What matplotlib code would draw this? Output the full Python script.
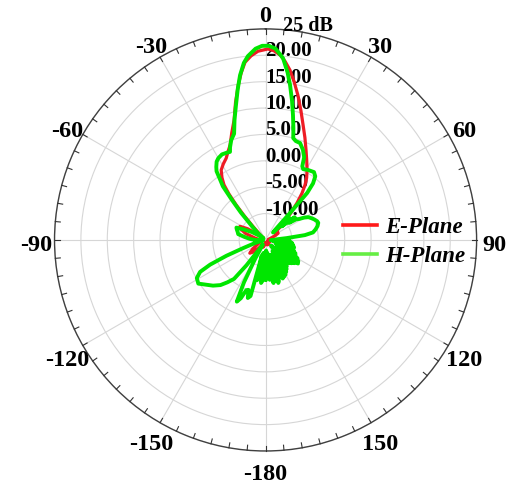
import matplotlib
matplotlib.use("Agg")
import matplotlib.pyplot as plt
import numpy as np

# H-Plane pattern (green): angle in degrees, gain in dB
h_theta = [-180, -178.5, -177, -175.5, -174, -172.5, -171, -169.5, -168, -166.5,
           -165, -163, -161, -159, -157, -155, -153,
           -151, -149, -146, -143, -141, -138, -135, -131, -127, -123, -119, -116,
           -114, -112, -110, -106, -102, -98, -94, -90, -86, -82, -78, -74, -70,
           -67, -64, -60, -56, -52, -48, -45, -42, -40, -38.5, -37, -35.5, -34,
           -32, -30, -27, -24, -22, -21, -19, -16.5, -14.5, -12.5, -10.5, -8.8,
           -7, -5.5, -3, -1, 1, 3, 5.5, 7.5, 9, 10.8, 12.4, 14, 15.2, 17, 19.6,
           22.5, 25, 26.5, 28, 31, 35.5, 38, 40, 41.5, 42.2, 43.5, 45, 47, 48.5,
           50, 52, 54, 56, 58, 60, 62, 64.5, 67, 70, 72, 75, 78, 81, 83, 85, 87,
           90, 91.5, 93, 94.5, 96, 97.5, 99, 100.5, 102, 103.5, 105, 106.5, 108,
           109.5, 111, 112.5, 114, 115.5, 117, 118.5, 120, 121.5, 123, 124.5, 126,
           127.5, 129, 130.5, 132, 133.5, 135, 136.5, 138, 139.5, 141, 142.5, 144,
           145.5, 147, 148.5, 150, 151.5, 153, 154.5, 156, 157.5, 159, 160.5, 162,
           163.5, 165, 166.5, 168, 169.5, 171, 172.5, 174, 175.5, 177, 178.5, 180]
h_db = [-7.5, -11.0, -12.5, -7.2, -6.8, -11.0, -12.5, -7.6, -7.2, -12.0,
        -4.0, -3.5, -5.0, -4.8, -3.0, -2.1, -6.0,
        -11.0, -14.0, -13.0, -9.0, -5.5, -4.2, -2.9, -1.8, -0.9, 0.2, -0.1, -1.2,
        -3.5, -7.0, -10.5, -13.0, -14.5, -13.0, -14.0, -13.0, -12.0, -11.0, -9.7,
        -9.5, -9.2, -9.0, -10.5, -12.0, -13.5, -14.5, -13.0, -11.5, -8.0, -5.0,
        -2.0, -0.7, 1.0, 1.7, 2.5, 2.9, 3.2, 3.1, 3.0, 3.8, 5.0, 6.0, 8.5, 11.0,
        14.0, 16.6, 18.8, 20.0, 21.3, 21.8, 21.8, 21.3, 19.6, 17.0, 14.7, 11.8,
        9.2, 6.8, 5.0, 4.6, 4.5, 3.5, 2.3, 0.6, 0.2, 0.5, 0.8, 0.3, -1.0, -3.1,
        -8.0, -12.4, -13.0, -10.0, -8.8, -11.0, -8.0, -9.5, -8.0, -7.5, -6.5,
        -5.8, -5.4, -5.0, -4.6, -4.5, -4.8, -5.3, -5.9, -7.5, -11.0, -13.0,
        -13.0, -10.5, -14.0, -11.0, -10.0, -13.5, -9.8, -12.5, -9.6, -13.0, -9.4,
        -12.5, -9.6, -13.0, -9.2, -12.0, -8.8, -12.5, -8.6, -12.0, -8.0, -11.5, -7.6,
        -12.0, -7.4, -11.0, -8.0, -12.5, -8.4, -13.0, -8.8, -13.5, -9.0, -12.5, -8.6,
        -12.5, -8.2, -12.0, -7.8, -12.5, -7.4, -11.5, -7.2, -12.0, -7.0, -11.5, -7.4,
        -12.0, -6.8, -6.5, -11.0, -7.0, -12.0, -6.7, -8.0, -12.5, -7.4, -11.0, -13.0,
        -7.8, -7.5]

# E-Plane pattern (red)
e_theta = [-180, -170, -160, -150, -140, -135, -130, -125, -120, -110, -100, -90,
           -80, -72, -66, -62, -58, -54, -50, -46, -43, -41.5, -40, -38.5, -37,
           -35, -32.4, -29, -25.7, -23, -20.5, -17.5, -14.7, -12.3, -10, -8.3,
           -6.6, -4.5, -2.3, 0.7, 2.5, 4.5, 6.3, 8.2, 10.3, 12.6, 15.3, 18.1, 21,
           24.2, 27.5, 30.7, 33.5, 35.7, 38, 40.4, 43, 45.5, 47.7, 50, 54, 58, 62,
           66, 72, 80, 90, 100, 110, 120, 130, 140, 150, 160, 170, 180]
e_db = [-14.5, -14.0, -13.5, -14.0, -13.0, -11.8, -11.1, -12.0, -13.1, -14.0,
        -14.5, -14.0, -13.0, -11.0, -9.8, -9.5, -11.0, -13.5, -14.5, -13.5, -11.5,
        -9.0, -6.3, -3.8, -1.9, -0.6, 0.7, 1.5, 2.2, 3.2, 4.2, 6.3, 8.5, 11.7,
        14.8, 17.0, 18.9, 20.0, 20.8, 21.2, 20.9, 20.2, 19.0, 17.5, 15.4, 13.1,
        10.4, 7.9, 5.8, 3.7, 1.9, 0.4, -0.9, -2.2, -3.8, -5.8, -8.0, -9.5, -10.8,
        -12.0, -12.8, -12.3, -12.3, -13.0, -14.0, -14.5, -14.5, -14.0, -14.5,
        -14.2, -14.5, -14.0, -14.5, -14.0, -14.5, -14.5]

angle_ticks = np.arange(0, 360, 30)
angle_labels = ["0", "30", "60", "90", "120", "150", "-180", "-150", "-120", "-90", "-60", "-30"]
r_ticks = [-10, -5, 0, 5, 10, 15, 20]
r_labels = ["-10.00", "-5.00", "0.00", "5.00", "10.00", "15.00", "20.00"]

serif = "Liberation Serif"
r_min, r_max = -15, 25

fig = plt.figure(figsize=(5.11, 4.88), dpi=100)
ax = fig.add_axes([0.1067, 0.0758, 0.826, 0.865], projection="polar")
ax.set_theta_zero_location("N")
ax.set_theta_direction(-1)
ax.set_rlim(r_min, r_max)

ax.plot(np.deg2rad(e_theta), e_db, color="#ee1c25", lw=2.3, label="E-Plane", zorder=3)
ax.plot(np.deg2rad(h_theta), h_db, color="#00e600", lw=2.8, label="H-Plane", zorder=4)

# angular grid, labels drawn by hand a bit lower than the circle centre (like the source)
ax.set_xticks(np.deg2rad(angle_ticks))
ax.set_xticklabels([])
ax.tick_params(axis="x", length=0)
for a, lab in zip(angle_ticks, angle_labels):
    t = np.deg2rad(a)
    d = 18
    ax.annotate(lab, xy=(t, r_max), xytext=(d * np.sin(t), d * np.cos(t) - 6),
                textcoords="offset pixels", ha="center", va="center",
                fontfamily=serif, fontweight="bold", fontsize=17.5,
                annotation_clip=False)

# 5 degree ticks pointing inward from the outer ring
tick_len = 5 / 211 * (r_max - r_min)
for a in np.arange(0, 360, 5):
    t = np.deg2rad(a)
    ax.plot([t, t], [r_max - tick_len, r_max], color="#333333", lw=0.8,
            clip_on=False, zorder=5)

ax.set_yticks(r_ticks + [25])
ax.set_yticklabels([])
ax.tick_params(axis="y", length=0)
ax.grid(True, which="major", color="#d6d6d6", lw=0.8)
ax.spines["polar"].set_color("#404040")
ax.spines["polar"].set_linewidth(1.0)

for r, lab in zip(r_ticks, r_labels):
    ax.text(0, r + 0.75, lab, ha="left", va="center", fontfamily=serif,
            fontweight="bold", fontsize=15, zorder=2)
ax.annotate("25 dB", xy=(0, 25), xytext=(17, 3), textcoords="offset pixels",
            ha="left", va="center", fontfamily=serif, fontweight="bold", fontsize=14.5)

leg = fig.legend(loc="center left", bbox_to_anchor=(0.671, 0.505), frameon=False,
                 borderpad=0, borderaxespad=0, handlelength=1.5, handletextpad=0.35,
                 labelspacing=0.35,
                 prop={"family": serif, "weight": "bold", "style": "italic", "size": 16.5})
leg.get_lines()[1].set_color("#66ee44")
leg.get_lines()[0].set_color("#ff1a1a")
for ln in leg.get_lines():
    ln.set_linewidth(2.6)

fig.savefig("out.png", dpi=100)
